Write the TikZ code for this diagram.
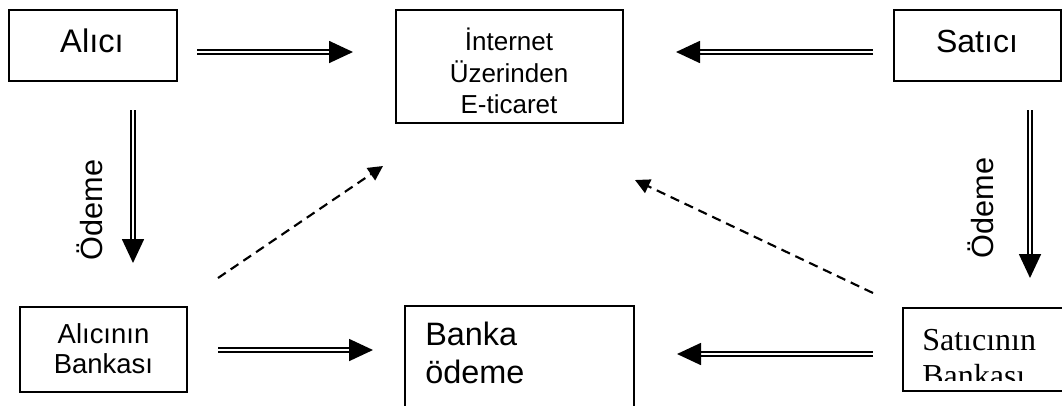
\documentclass[tikz,border=0pt]{standalone}
\usepackage{fontspec}
\setmainfont{Liberation Sans}
\newfontfamily\timesfont{Liberation Serif}
\usetikzlibrary{arrows.meta,fit}
\newcommand{\fs}[1]{\fontsize{#1}{1.2\dimexpr#1\relax}\selectfont}
\begin{document}
\begin{tikzpicture}[x=0.75pt,y=-0.75pt,
  box/.style={draw, line width=1.1pt, inner sep=0pt},
  txt/.style={inner sep=0pt, anchor=base},
  txtw/.style={inner sep=0pt, anchor=base west},
  dbl/.style={double, double distance=1.6pt, line width=1.3pt,
    -{Triangle[length=18pt,width=16.5pt]}},
  dsh/.style={dash pattern=on 7pt off 4.5pt, line width=1.6pt,
    -{Triangle[length=11pt,width=11pt]}}]
\useasboundingbox (0,0) rectangle (1062,405);
\clip (0,0) rectangle (1062,405);
% boxes
\node[box, fit={(9,10) (177,81)}] (alici) {};
\node[box, fit={(396,10) (623,123)}] (internet) {};
\node[box, fit={(894,10) (1061,81)}] (satici) {};
\node[box, fit={(20,307) (187,392)}] (abanka) {};
\node[box, fit={(405,306) (634,430)}] (banka) {};
\node[box, fit={(903,308) (1075,391)}] (sbanka) {};
% texts
\node[txt, font=\fs{24.5pt}] (talici) at (92,52) {Alıcı};
\node[txt, font=\fs{24pt}] (tsatici) at (977,52) {Satıcı};
\node[txt, font=\fs{19.5pt}] (ti1) at (509,50) {İnternet};
\node[txt, font=\fs{19.5pt}] (ti2) at (509,82) {Üzerinden};
\node[txt, font=\fs{19.5pt}] (ti3) at (509,113) {E-ticaret};
\node[txt, font=\fs{20.6pt}] (ta1) at (103.5,343) {Alıcının};
\node[txt, font=\fs{20.6pt}] (ta2) at (103.5,373) {Bankası};
\node[txtw, font=\fs{24.3pt}] (tb1) at (425,345) {Banka};
\node[txtw, font=\fs{24.3pt}] (tb2) at (425,383) {ödeme};
\begin{scope}
\clip (903,308) rectangle (1062,380);
\node[txtw, font=\timesfont\fs{24pt}] (ts1) at (922,350) {Satıcının};
\node[txtw, font=\timesfont\fs{24pt}] (ts2) at (922,386) {Bankası};
\end{scope}
\node[rotate=90, inner sep=0pt, font=\fs{23pt}] (od1) at (90,210) {Ödeme};
\node[rotate=90, inner sep=0pt, font=\fs{23pt}] (od2) at (981,208) {Ödeme};
% arrow endpoints
\coordinate (a1s) at (197,52); \coordinate (a1e) at (353,52);
\coordinate (a2s) at (873,52); \coordinate (a2e) at (676,52);
\coordinate (a3s) at (133,110); \coordinate (a3e) at (133,263);
\coordinate (a4s) at (1030,110); \coordinate (a4e) at (1030,278);
\coordinate (a5s) at (218,350); \coordinate (a5e) at (373,350);
\coordinate (a6s) at (873,354); \coordinate (a6e) at (677,354);
\coordinate (d1s) at (218,278); \coordinate (d1e) at (383,166);
\coordinate (d2s) at (873,293); \coordinate (d2e) at (635,180);
\draw[dbl] (a1s) -- (a1e);
\draw[dbl] (a2s) -- (a2e);
\draw[dbl] (a3s) -- (a3e);
\draw[dbl] (a4s) -- (a4e);
\draw[dbl] (a5s) -- (a5e);
\draw[dbl] (a6s) -- (a6e);
\draw[dsh] (d1s) -- (d1e);
\draw[dsh] (d2s) -- (d2e);
\end{tikzpicture}
\end{document}
